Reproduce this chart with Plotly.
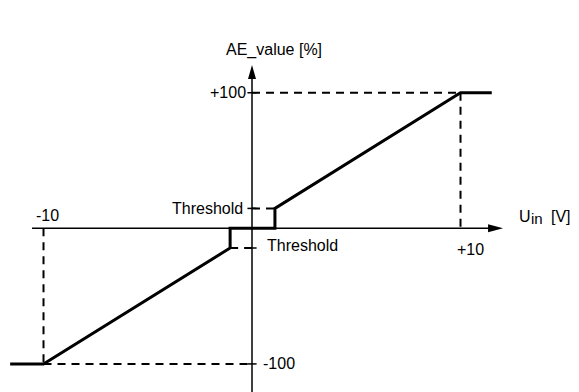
import plotly.graph_objects as go

# transfer curve: AE_value [%] over U_in [V]
u_in = [-11.6, -10, -1.05, -1.05, 1.1, 1.1, 10, 11.5]
ae_value = [-100, -100, -14.5, 0, 0, 14.7, 100, 100]

# dashed guide lines (x pairs, y pairs)
guide_x = [[0, 10], [10, 10], [-10, -10], [-10, 0], [0, 1.1], [-1.05, 0]]
guide_y = [[100, 100], [100, 0], [0, -100], [-100, -100], [14.7, 14.7], [-14.5, -14.5]]

# small ticks on the AE axis
tick_y = [100, -100, 14.7, -14.5]

black = '#000000'
font = dict(family='Liberation Sans, Arial, sans-serif', size=16, color=black)

fig = go.Figure()

for gx, gy in zip(guide_x, guide_y):
    fig.add_trace(go.Scatter(x=gx, y=gy, mode='lines',
                             line=dict(color=black, width=2, dash='8px,6px'),
                             hoverinfo='skip'))

for ty in tick_y:
    fig.add_trace(go.Scatter(x=[-0.22, 0.22], y=[ty, ty], mode='lines',
                             line=dict(color=black, width=1.5), hoverinfo='skip'))

# axes
fig.add_trace(go.Scatter(x=[-10.55, 11.5], y=[0, 0], mode='lines',
                         line=dict(color=black, width=1.5), hoverinfo='skip'))
fig.add_trace(go.Scatter(x=[0, 0], y=[-125, 112], mode='lines',
                         line=dict(color=black, width=1.5), hoverinfo='skip'))

fig.add_trace(go.Scatter(x=u_in, y=ae_value, mode='lines',
                         line=dict(color=black, width=3), hoverinfo='skip'))

# arrow heads
fig.add_shape(type='path', xsizemode='pixel', ysizemode='pixel', xanchor=12.04, yanchor=0,
              path='M0,0 L-15,4 L-15,-4 Z', fillcolor=black, line=dict(width=0))
fig.add_shape(type='path', xsizemode='pixel', ysizemode='pixel', xanchor=0, yanchor=120.4,
              path='M0,0 L-4,-14 L4,-14 Z', fillcolor=black, line=dict(width=0))

labels = [
    (1.06, 131.5, 'AE_value [%]', 'center', 16),
    (12.74, 9.1, 'U', 'left', 16),
    (13.35, 7.2, 'in', 'left', 15),
    (14.3, 9.1, '[V]', 'left', 16),
    (-0.25, 100, '+100', 'right', 16),
    (0.48, -100, '-100', 'left', 16),
    (-9.83, 9.8, '-10', 'center', 16),
    (10.5, -15.3, '+10', 'center', 16),
    (-0.4, 15, 'Threshold', 'right', 16),
    (0.67, -12.3, 'Threshold', 'left', 16),
]
for lx, ly, txt, anchor, fs in labels:
    fig.add_annotation(x=lx, y=ly, text=txt, showarrow=False, xanchor=anchor,
                       yanchor='middle', borderpad=0, font=dict(font, size=fs))

# page body has an 8px margin, so the figure is 571x384 placed at (8, 8)
fig.update_xaxes(visible=False, range=[-11.703, 15.683], fixedrange=True)
fig.update_yaxes(visible=False, range=[-120.7, 162.5], fixedrange=True)
fig.update_layout(width=571, height=384, autosize=False,
                  margin=dict(l=0, r=0, t=0, b=0),
                  plot_bgcolor='white', paper_bgcolor='white',
                  showlegend=False)

fig.write_html("out.html")
